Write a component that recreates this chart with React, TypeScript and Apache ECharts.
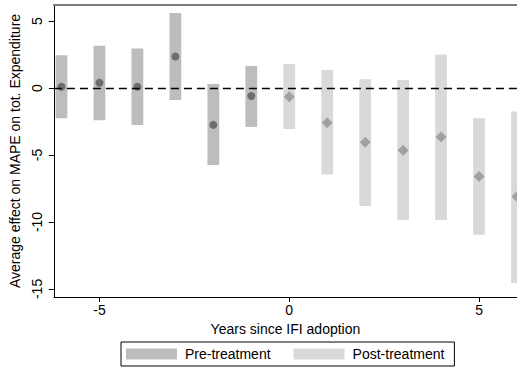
import React, { useEffect, useRef } from "react";
import * as echarts from "echarts";

const preX = [-6, -5, -4, -3, -2, -1];
const preEst = [0.1, 0.4, 0.1, 2.35, -2.75, -0.6];
const preLow = [-2.25, -2.4, -2.75, -0.9, -5.75, -2.9];
const preHigh = [2.45, 3.15, 2.95, 5.6, 0.3, 1.65];

const postX = [0, 1, 2, 3, 4, 5, 6];
const postEst = [-0.65, -2.6, -4.05, -4.65, -3.65, -6.6, -8.1];
const postLow = [-3.05, -6.45, -8.8, -9.85, -9.85, -10.95, -14.55];
const postHigh = [1.8, 1.35, 0.65, 0.6, 2.5, -2.25, -1.75];

const yTicks = [-15, -10, -5, 0, 5];
const xTicks = [-5, 0, 5];

const FONT = "'Liberation Sans', Arial, sans-serif";
const FS = 14;
const PRE_BAR = "#bdbdbd";
const POST_BAR = "#d9d9d9";
const PRE_DOT = "#595959";
const POST_DOT = "#929292";

function rangeRender(color: string) {
  return (params: any, api: any) => {
    const x = api.value(0);
    const lo = api.value(1);
    const hi = api.value(2);
    const p1 = api.coord([x, hi]);
    const p2 = api.coord([x, lo]);
    const w = api.size([0.31, 0])[0];
    return {
      type: "rect",
      shape: { x: p1[0] - w / 2, y: p1[1], width: w, height: p2[1] - p1[1] },
      style: { fill: color },
    };
  };
}

export default function App() {
  const ref = useRef<HTMLDivElement>(null);
  useEffect(() => {
    if (!ref.current) return;
    const chart = echarts.init(ref.current, undefined, { renderer: "svg" });
    const option: any = {
      animation: false,
      backgroundColor: "#ffffff",
      textStyle: { fontFamily: FONT },
      grid: { left: 50, right: 0, top: 5, bottom: 74, containLabel: false },
      legend: {
        left: 121,
        top: 342,
        orient: "horizontal",
        padding: [5, 10, 5, 5],
        itemGap: 23,
        itemWidth: 51,
        itemHeight: 11,
        borderColor: "#000",
        borderWidth: 1,
        borderRadius: 0,
        selectedMode: false,
        textStyle: { fontFamily: FONT, fontSize: FS, color: "#000", padding: [0, 0, 0, 3] },
        data: [
          { name: "Pre-treatment", icon: "rect", itemStyle: { color: PRE_BAR } },
          { name: "Post-treatment", icon: "rect", itemStyle: { color: POST_BAR } },
        ],
      },
      xAxis: [
        {
          type: "value",
          min: -6.2,
          max: 6,
          name: "Years since IFI adoption",
          nameLocation: "middle",
          nameGap: 22,
          nameTextStyle: { fontFamily: FONT, fontSize: FS, color: "#000" },
          axisLine: { show: true, onZero: false, lineStyle: { color: "#000", width: 1 } },
          axisTick: { show: true, length: 5, lineStyle: { color: "#000" }, customValues: xTicks },
          axisLabel: { fontFamily: FONT, fontSize: FS, color: "#000", margin: 6, customValues: xTicks },
          splitLine: { show: false },
        },
        {
          type: "value",
          position: "top",
          min: -6.2,
          max: 6,
          axisLine: { show: true, onZero: false, lineStyle: { color: "#7a7a7a", width: 2 } },
          axisTick: { show: false },
          axisLabel: { show: false },
          splitLine: { show: false },
        },
      ],
      yAxis: {
        type: "value",
        min: -15.6,
        max: 6.2,
        name: "Average effect on MAPE on tot. Expenditure",
        nameLocation: "middle",
        nameRotate: 90,
        nameGap: 24,
        nameTextStyle: { fontFamily: FONT, fontSize: FS, color: "#000" },
        axisLine: { show: true, onZero: false, lineStyle: { color: "#000", width: 1 } },
        axisTick: { show: true, length: 5, lineStyle: { color: "#000" }, customValues: yTicks },
        axisLabel: {
          fontFamily: FONT,
          fontSize: FS,
          color: "#000",
          rotate: 90,
          margin: 10,
          customValues: yTicks,
        },
        splitLine: { show: false },
      },
      series: [
        {
          name: "Pre-treatment",
          type: "custom",
          renderItem: rangeRender(PRE_BAR),
          itemStyle: { color: PRE_BAR },
          clip: true,
          z: 2,
          encode: { x: 0, y: [1, 2] },
          data: preX.map((x, i) => [x, preLow[i], preHigh[i]]),
        },
        {
          name: "Post-treatment",
          type: "custom",
          renderItem: rangeRender(POST_BAR),
          itemStyle: { color: POST_BAR },
          clip: true,
          z: 2,
          encode: { x: 0, y: [1, 2] },
          data: postX.map((x, i) => [x, postLow[i], postHigh[i]]),
        },
        {
          name: "zero",
          type: "scatter",
          data: [],
          z: 3,
          markLine: {
            silent: true,
            symbol: ["none", "none"],
            label: { show: false },
            lineStyle: { color: "#000", width: 1.3, type: [8, 5] },
            data: [{ yAxis: 0 }],
          },
        },
        {
          name: "preEst",
          type: "scatter",
          symbol: "circle",
          symbolSize: 8,
          itemStyle: { color: PRE_DOT },
          z: 4,
          data: preX.map((x, i) => [x, preEst[i]]),
        },
        {
          name: "postEst",
          type: "scatter",
          symbol: "diamond",
          symbolSize: [11, 11],
          itemStyle: { color: POST_DOT },
          clip: false,
          z: 4,
          data: postX.map((x, i) => [x, postEst[i]]),
        },
      ],
    };
    chart.setOption(option);
    return () => chart.dispose();
  }, []);
  return (
    <div
      ref={ref}
      style={{ position: "fixed", left: 0, top: 0, width: 517, height: 371, background: "#fff" }}
    />
  );
}
